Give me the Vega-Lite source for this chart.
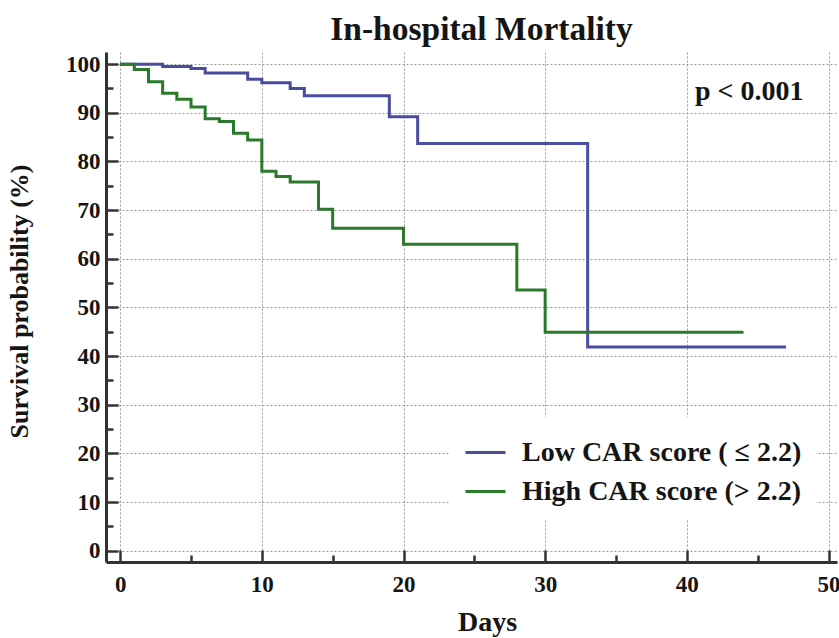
{
  "$schema": "https://vega.github.io/schema/vega-lite/v6.json",
  "width": 731,
  "height": 510,
  "autosize": {"type": "none"},
  "padding": {"left": 106, "top": 52, "right": 2, "bottom": 76},
  "background": "white",
  "title": {
    "text": "In-hospital Mortality",
    "font": "Liberation Serif",
    "fontSize": 33.5,
    "fontWeight": "bold",
    "color": "#151515",
    "anchor": "middle",
    "offset": 5,
    "dx": 10
  },
  "config": {
    "view": {"stroke": null},
    "axis": {
      "domainColor": "#333333",
      "domainWidth": 3,
      "tickColor": "#333333",
      "tickWidth": 2.5,
      "gridColor": "#9a9a9a",
      "gridDash": [2, 2],
      "gridWidth": 1,
      "labelFont": "Liberation Serif",
      "labelFontWeight": "bold",
      "labelColor": "#151515",
      "titleFont": "Liberation Serif",
      "titleFontWeight": "bold",
      "titleColor": "#151515"
    }
  },
  "resolve": {"axis": {"x": "independent", "y": "independent"}},
  "layer": [
    {
      "data": {
        "values": [
          {"group": "Low CAR score ( ≤ 2.2)", "day": 0, "surv": 100},
          {"group": "Low CAR score ( ≤ 2.2)", "day": 3, "surv": 99.5},
          {"group": "Low CAR score ( ≤ 2.2)", "day": 5, "surv": 99.1},
          {"group": "Low CAR score ( ≤ 2.2)", "day": 6, "surv": 98.2},
          {"group": "Low CAR score ( ≤ 2.2)", "day": 9, "surv": 96.9},
          {"group": "Low CAR score ( ≤ 2.2)", "day": 10, "surv": 96.2},
          {"group": "Low CAR score ( ≤ 2.2)", "day": 12, "surv": 95.0},
          {"group": "Low CAR score ( ≤ 2.2)", "day": 13, "surv": 93.5},
          {"group": "Low CAR score ( ≤ 2.2)", "day": 19, "surv": 89.2},
          {"group": "Low CAR score ( ≤ 2.2)", "day": 21, "surv": 83.7},
          {"group": "Low CAR score ( ≤ 2.2)", "day": 33, "surv": 41.9},
          {"group": "Low CAR score ( ≤ 2.2)", "day": 47, "surv": 41.9},
          {"group": "High CAR score (> 2.2)", "day": 0, "surv": 100},
          {"group": "High CAR score (> 2.2)", "day": 1, "surv": 98.9},
          {"group": "High CAR score (> 2.2)", "day": 2, "surv": 96.4},
          {"group": "High CAR score (> 2.2)", "day": 3, "surv": 94.0},
          {"group": "High CAR score (> 2.2)", "day": 4, "surv": 92.8},
          {"group": "High CAR score (> 2.2)", "day": 5, "surv": 91.2},
          {"group": "High CAR score (> 2.2)", "day": 6, "surv": 88.8},
          {"group": "High CAR score (> 2.2)", "day": 7, "surv": 88.2},
          {"group": "High CAR score (> 2.2)", "day": 8, "surv": 85.8},
          {"group": "High CAR score (> 2.2)", "day": 9, "surv": 84.4},
          {"group": "High CAR score (> 2.2)", "day": 10, "surv": 78.0},
          {"group": "High CAR score (> 2.2)", "day": 11, "surv": 76.9},
          {"group": "High CAR score (> 2.2)", "day": 12, "surv": 75.8},
          {"group": "High CAR score (> 2.2)", "day": 14, "surv": 70.2},
          {"group": "High CAR score (> 2.2)", "day": 15, "surv": 66.3},
          {"group": "High CAR score (> 2.2)", "day": 20, "surv": 63.0},
          {"group": "High CAR score (> 2.2)", "day": 28, "surv": 53.6},
          {"group": "High CAR score (> 2.2)", "day": 30, "surv": 44.9},
          {"group": "High CAR score (> 2.2)", "day": 44, "surv": 44.9}
        ]
      },
      "mark": {"type": "line", "interpolate": "step-after", "strokeWidth": 3},
      "encoding": {
        "x": {
          "field": "day",
          "type": "quantitative",
          "scale": {"domain": [-1, 50.6], "nice": false, "zero": false},
          "axis": {
            "orient": "bottom",
            "values": [0, 10, 20, 30, 40, 50],
            "tickSize": -12,
            "labelPadding": 23,
            "labelFontSize": 23,
            "grid": true,
            "title": "Days",
            "titleFontSize": 28,
            "titleX": 381,
            "titleY": 46,
            "titleAlign": "center",
            "titleBaseline": "top"
          }
        },
        "y": {
          "field": "surv",
          "type": "quantitative",
          "scale": {"domain": [-2.3, 102.5], "nice": false, "zero": false},
          "axis": {
            "orient": "left",
            "values": [0, 10, 20, 30, 40, 50, 60, 70, 80, 90, 100],
            "tickSize": -12,
            "labelPadding": 18,
            "labelFontSize": 23,
            "grid": true,
            "title": "Survival probability (%)",
            "titleFontSize": 26,
            "titleX": -74,
            "titleY": 249,
            "titleAngle": -90,
            "titleAlign": "center",
            "titleBaseline": "bottom"
          }
        },
        "color": {
          "field": "group",
          "type": "nominal",
          "sort": ["Low CAR score ( ≤ 2.2)", "High CAR score (> 2.2)"],
          "scale": {
            "domain": ["Low CAR score ( ≤ 2.2)", "High CAR score (> 2.2)"],
            "range": ["#4a4c9e", "#2b7a2b"]
          },
          "legend": {
            "orient": "none",
            "legendX": 344,
            "legendY": 365,
            "title": null,
            "fillColor": "white",
            "padding": 14,
            "symbolType": "stroke",
            "symbolSize": 1600,
            "symbolStrokeWidth": 3,
            "labelFont": "Liberation Serif",
            "labelFontSize": 28,
            "labelFontWeight": "bold",
            "labelColor": "#151515",
            "labelOffset": 15,
            "labelLimit": 400,
            "rowPadding": 3
          }
        }
      }
    },
    {
      "data": {"values": [{"day": 44.4, "surv": 92.6, "label": "p < 0.001"}]},
      "mark": {
        "type": "text",
        "font": "Liberation Serif",
        "fontSize": 28,
        "fontWeight": "bold",
        "color": "#151515",
        "align": "center",
        "baseline": "alphabetic"
      },
      "encoding": {
        "x": {
          "field": "day",
          "type": "quantitative",
          "scale": {"domain": [-1, 50.6], "nice": false, "zero": false},
          "axis": {
            "orient": "bottom",
            "values": [5, 15, 25, 35, 45],
            "tickSize": -7,
            "labels": false,
            "domain": false,
            "grid": false,
            "title": null
          }
        },
        "y": {
          "field": "surv",
          "type": "quantitative",
          "scale": {"domain": [-2.3, 102.5], "nice": false, "zero": false},
          "axis": {
            "orient": "left",
            "values": [5, 15, 25, 35, 45, 55, 65, 75, 85, 95],
            "tickSize": -7,
            "labels": false,
            "domain": false,
            "grid": false,
            "title": null
          }
        },
        "text": {"field": "label", "type": "nominal"}
      }
    }
  ]
}
